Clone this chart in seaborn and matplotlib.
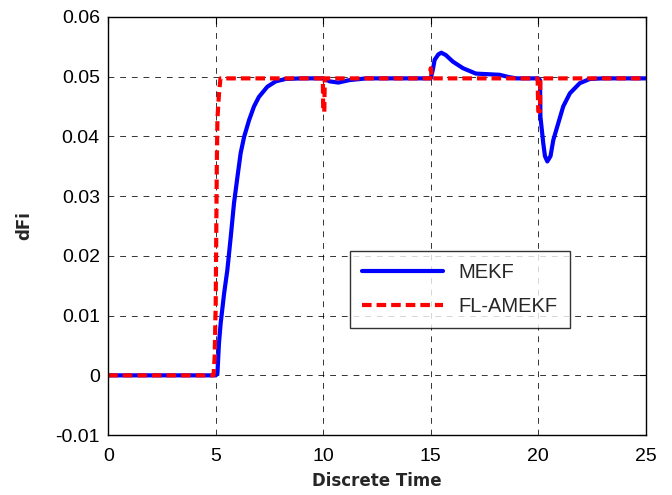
import pandas as pd
import matplotlib
matplotlib.use('Agg')
import matplotlib.pyplot as plt
import seaborn as sns

# valores
t_mekf = [0, 5.0, 5.08, 5.15, 5.23, 5.39, 5.54, 5.70, 5.85, 6.01, 6.16, 6.32, 6.55, 6.78,
          7.01, 7.4, 7.79, 8.25, 9, 10, 10.3, 10.7, 11.2, 12, 15, 15.1, 15.18, 15.35,
          15.49, 15.7, 16.03, 16.5, 17.1, 18.2, 18.65, 19, 20, 20.08, 20.1, 20.23, 20.31,
          20.42, 20.57, 20.7, 20.93, 21.16, 21.47, 21.93, 22.4, 23, 25]
v_mekf = [0, 0, 0.0003, 0.0053, 0.0087, 0.0137, 0.0176, 0.0232, 0.0288, 0.0332, 0.0372,
          0.0399, 0.0427, 0.045, 0.0466, 0.0483, 0.0492, 0.0496, 0.0497, 0.0497, 0.0492,
          0.0490, 0.0494, 0.0497, 0.0497, 0.0512, 0.0528, 0.0537, 0.054, 0.0536, 0.0525,
          0.0514, 0.0505, 0.0503, 0.0499, 0.0497, 0.0497, 0.0494, 0.0433, 0.0389, 0.0367,
          0.0358, 0.0367, 0.0394, 0.0422, 0.045, 0.0472, 0.0489, 0.0496, 0.0497, 0.0497]

t_fl = [0, 4.9, 4.95, 5.0, 5.05, 5.08, 5.15, 5.22, 9.98, 10.0, 10.05, 10.07, 14.97, 15.0,
        15.05, 19.97, 20.0, 20.08, 20.1, 25]
v_fl = [0, 0, 0.003, 0.012, 0.035, 0.043, 0.047, 0.0497, 0.0497, 0.0441, 0.0441, 0.0497,
        0.0497, 0.0514, 0.0497, 0.0497, 0.0442, 0.0442, 0.0497, 0.0497]

x_ticks = [0, 5, 10, 15, 20, 25]
y_ticks = [-0.01, 0, 0.01, 0.02, 0.03, 0.04, 0.05, 0.06]
y_labels = ['-0.01', '0', '0.01', '0.02', '0.03', '0.04', '0.05', '0.06']

df = pd.concat([
    pd.DataFrame({'t': t_mekf, 'v': v_mekf, 'metodo': 'MEKF'}),
    pd.DataFrame({'t': t_fl, 'v': v_fl, 'metodo': 'FL-AMEKF'}),
], ignore_index=True)

sns.set_style('white')
plt.rcParams['font.family'] = ['Liberation Sans', 'DejaVu Sans']

fig = plt.figure(figsize=(6.72, 4.95), dpi=100)
ax = fig.add_axes([0.161, 0.121, 0.8, 0.845])

sns.lineplot(data=df, x='t', y='v', hue='metodo', style='metodo',
             palette={'MEKF': 'blue', 'FL-AMEKF': 'red'},
             dashes={'MEKF': '', 'FL-AMEKF': (2.3, 1.2)},
             sort=False, estimator=None, linewidth=3, ax=ax)

ax.set_xlim(0, 25)
ax.set_ylim(-0.01, 0.06)
ax.set_xticks(x_ticks)
ax.set_yticks(y_ticks)
ax.set_xticklabels([str(x) for x in x_ticks])
ax.set_yticklabels(y_labels)
ax.tick_params(direction='in', top=True, right=True, length=5, width=0.8,
               labelsize=14, colors='black')
ax.tick_params(axis='x', pad=9)
ax.tick_params(axis='y', pad=6)
ax.grid(True, color='black', linestyle=(0, (6, 6)), linewidth=0.7, alpha=0.8)
for s in ax.spines.values():
    s.set_color('black')
    s.set_linewidth(1)

ax.set_xlabel('Discrete Time', fontsize=12, fontweight='bold', labelpad=5,
              family=['DejaVu Sans'])
ax.set_ylabel('dFi', fontsize=12, fontweight='bold', labelpad=16,
              family=['DejaVu Sans'])

leg = ax.legend(loc='lower left', bbox_to_anchor=(0.45, 0.256), fontsize=14.5,
                handlelength=4.0, frameon=True, fancybox=False, borderpad=0.6,
                labelspacing=0.75, handletextpad=0.8, borderaxespad=0, title=None)
leg.get_frame().set_edgecolor('black')
leg.get_frame().set_linewidth(1)

plt.savefig('out.png', dpi=100)
